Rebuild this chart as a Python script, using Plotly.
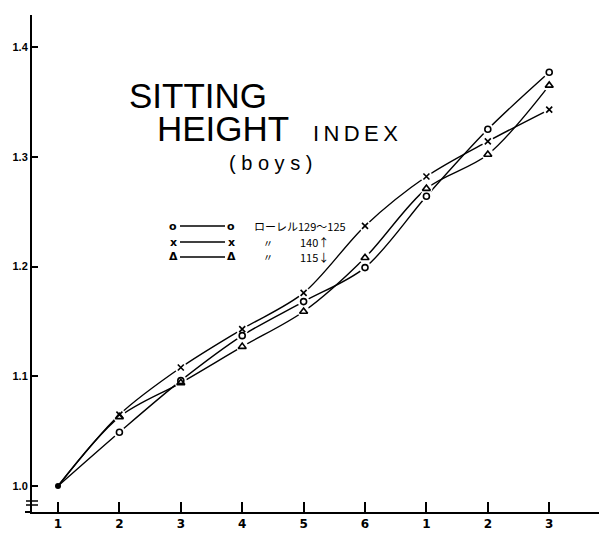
import plotly.graph_objects as go

# ---- data ----
periods = [1, 2, 3, 4, 5, 6, 7, 8, 9]
tick_labels = ["1", "2", "3", "4", "5", "6", "1", "2", "3"]
rohrer_129_125 = [1.000, 1.049, 1.096, 1.137, 1.168, 1.199, 1.264, 1.325, 1.377]
rohrer_140_up = [1.000, 1.065, 1.108, 1.143, 1.176, 1.237, 1.282, 1.314, 1.343]
rohrer_115_down = [1.000, 1.063, 1.094, 1.127, 1.159, 1.208, 1.271, 1.302, 1.365]
y_ticks = [1.0, 1.1, 1.2, 1.3, 1.4]
y_tick_labels = ["1.0", "1.1", "1.2", "1.3", "1.4"]

# page body has an 8px margin, so the figure is drawn at (8, 8) in the window
OFF = 8
W, H = 607 - OFF, 535 - OFF
# plot area in window pixels: left 32, right 607, top 15, bottom 512
L, R, T, B = 32 - OFF, 0, 15 - OFF, H - (512 - OFF)


def px(x):
    return (x - OFF - L) / (W - L - R)


def py(y):
    return (H - B - (y - OFF)) / (H - T - B)


fig = go.Figure()

series = [
    (rohrer_129_125, "circle-open", 6),
    (rohrer_140_up, "x-thin-open", 6),
    (rohrer_115_down, "triangle-up-open", 7),
]

# lines
for vals, sym, sz in series:
    fig.add_trace(go.Scatter(x=periods, y=vals, mode="lines",
                             line=dict(color="black", width=1.4, shape="spline", smoothing=0.9),
                             hoverinfo="skip", showlegend=False))
# white gaps around points
for vals, sym, sz in series:
    fig.add_trace(go.Scatter(x=periods[1:], y=vals[1:], mode="markers",
                             marker=dict(color="white", size=12, line=dict(width=0)),
                             hoverinfo="skip", showlegend=False))
# symbols
for vals, sym, sz in series:
    fig.add_trace(go.Scatter(x=periods[1:], y=vals[1:], mode="markers",
                             marker=dict(symbol=sym, color="black", size=sz,
                                         line=dict(color="black", width=1.6)),
                             showlegend=False))
# common start point
fig.add_trace(go.Scatter(x=periods[:1], y=rohrer_129_125[:1], mode="markers",
                         marker=dict(symbol="circle", color="black", size=6),
                         showlegend=False))

ann = []
shapes = []

title_font = "Liberation Sans, Arial, sans-serif"
ann.append(dict(x=px(198), y=py(95), text="SITTING", font=dict(size=35, family=title_font)))
ann.append(dict(x=px(223), y=py(128), text="HEIGHT", font=dict(size=35, family=title_font)))
ann.append(dict(x=px(355), y=py(133), text="I\u2009N\u2009D\u2009E\u2009X", font=dict(size=22, family=title_font)))
ann.append(dict(x=px(270), y=py(163), text="( b o y s )", font=dict(size=20, family=title_font)))

# legend
leg_rows = [226, 242, 257]
leg_syms = ["o", "x", "Δ"]
leg_texts = ["ローレル129～125", "〃", "〃"]
leg_nums = ["", "140↑", "115↓"]
for yy, s, t, n in zip(leg_rows, leg_syms, leg_texts, leg_nums):
    ann.append(dict(x=px(173), y=py(yy), text="<b>%s</b>" % s, font=dict(size=11, family="DejaVu Sans")))
    ann.append(dict(x=px(231), y=py(yy), text="<b>%s</b>" % s, font=dict(size=11, family="DejaVu Sans")))
    shapes.append(dict(type="line", xref="paper", yref="paper", x0=px(180), x1=px(225),
                       y0=py(yy), y1=py(yy), line=dict(color="black", width=1.3)))
    if n == "":
        ann.append(dict(x=px(252), y=py(yy), text=t, xanchor="left",
                        font=dict(size=11, family="Noto Sans CJK JP")))
    else:
        ann.append(dict(x=px(268), y=py(yy), text=t,
                        font=dict(size=10, family="Noto Sans CJK JP")))
        ann.append(dict(x=px(298), y=py(yy), text=n, xanchor="left",
                        font=dict(size=11, family="Noto Sans CJK JP")))

for a in ann:
    a.setdefault("xanchor", "center")
    a.update(xref="paper", yref="paper", showarrow=False, yanchor="middle")
    a["font"].setdefault("color", "black")

# axis break and x-axis left stub
shapes.append(dict(type="line", xref="paper", yref="paper", x0=px(25), x1=px(32), y0=0, y1=0,
                   line=dict(color="black", width=2)))
for yy in [501, 505]:
    shapes.append(dict(type="line", xref="paper", yref="paper", x0=px(26), x1=px(38),
                       y0=py(yy), y1=py(yy), line=dict(color="black", width=1.5)))

fig.update_layout(
    width=W, height=H,
    margin=dict(l=L, r=R, t=T, b=B, pad=0),
    paper_bgcolor="white", plot_bgcolor="white",
    annotations=ann, shapes=shapes,
    showlegend=False,
)
fig.update_xaxes(range=[0.5765, 9.941], tickvals=periods, ticktext=tick_labels,
                 ticks="inside", ticklen=10, tickwidth=2, tickcolor="black",
                 showline=True, linecolor="black", linewidth=2, showgrid=False, zeroline=False,
                 tickfont=dict(size=12, family="DejaVu Sans", color="black", weight="bold"))
fig.update_yaxes(range=[0.97631, 1.42916], tickvals=y_ticks, ticktext=y_tick_labels,
                 ticks="inside", ticklen=6, tickwidth=2, tickcolor="black",
                 showline=True, linecolor="black", linewidth=2, showgrid=False, zeroline=False,
                 tickfont=dict(size=11, family="Liberation Sans", color="black", weight="bold"))

fig.write_html("out.html")
